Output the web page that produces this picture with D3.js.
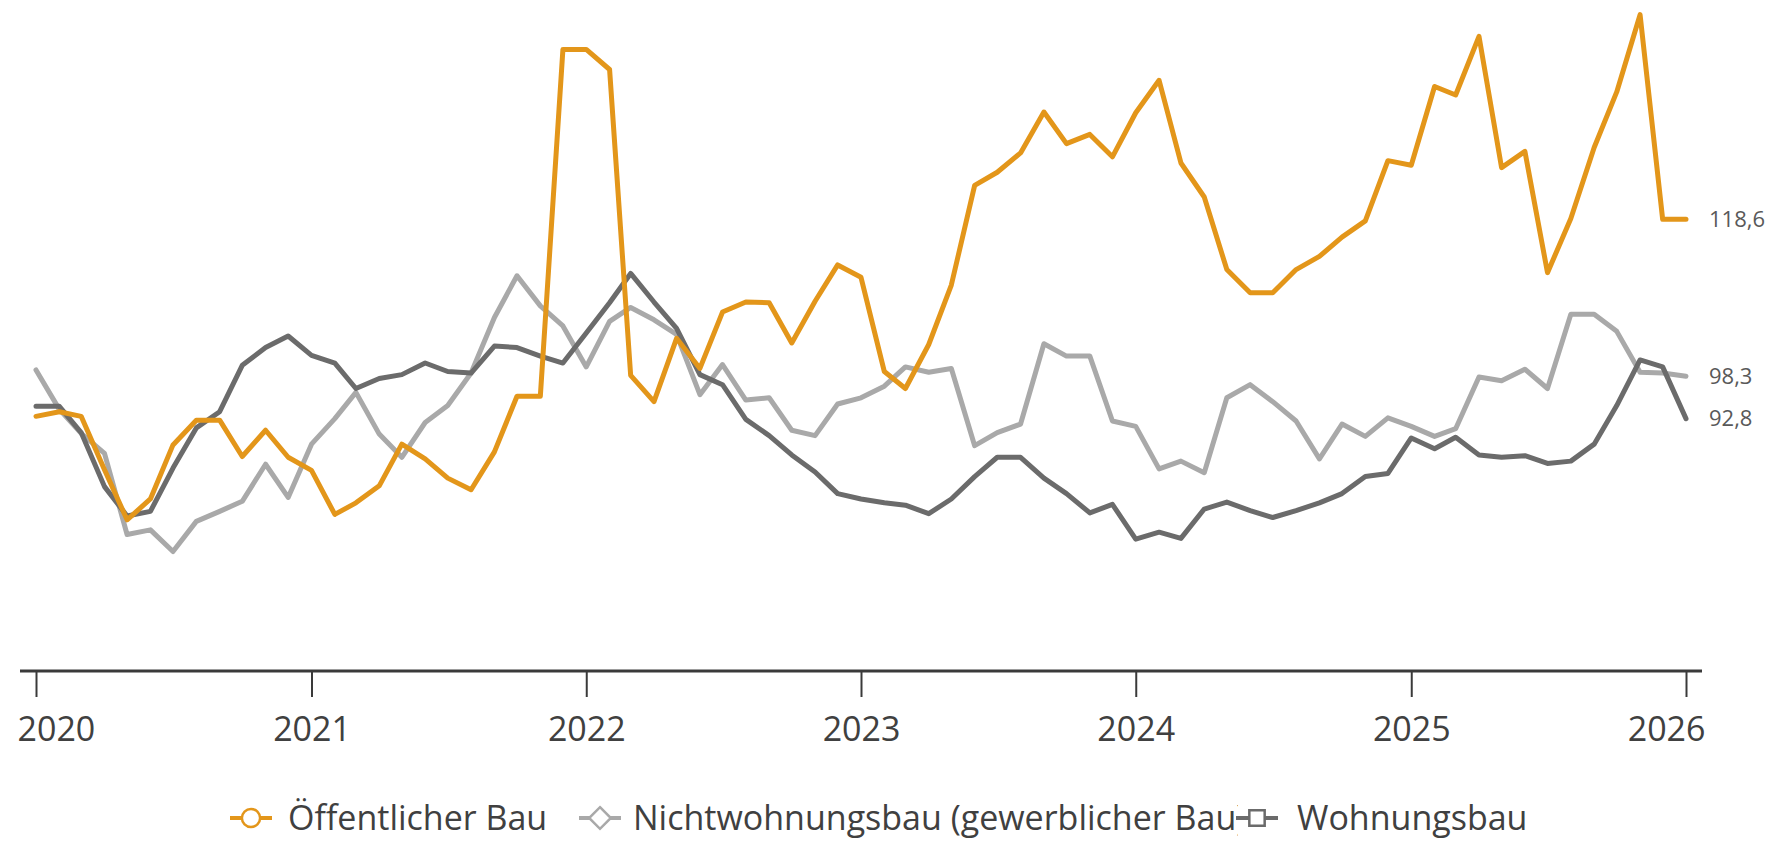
<!DOCTYPE html>
<html>
<head>
<meta charset="utf-8">
<script src="https://cdn.jsdelivr.net/npm/d3@7"></script>
<style>
    body { margin: 0; background: #fff; }
    text { font-family: "Open Sans", "Noto Sans", sans-serif; }
</style>
</head>
<body>
<div id="root"></div>
<script>
// monthly index values, Jan 2020 .. Jan 2026
const firstMonth = new Date(2020, 0, 1);
const lastMonth = new Date(2026, 0, 1);

const oeffentlich = [
    93.1, 93.7, 93.1, 86.2, 79.7, 82.4, 89.4, 92.6, 92.6, 87.9, 91.3, 87.8,
    86.1, 80.4, 81.9, 84.1, 89.5, 87.6, 85.1, 83.6, 88.5, 95.7, 95.7, 140.6,
    140.6, 138.0, 98.4, 95.0, 103.2, 99.3, 106.6, 107.9, 107.8, 102.6, 108.0, 112.7,
    111.1, 98.9, 96.7, 102.4, 110.1, 123.0, 124.7, 127.2, 132.5, 128.4, 129.6, 126.7,
    132.4, 136.6, 125.9, 121.5, 112.1, 109.1, 109.1, 112.1, 113.8, 116.3, 118.4, 126.2,
    125.6, 135.8, 134.7, 142.3, 125.3, 127.4, 111.7, 118.7, 127.9, 135.1, 145.1, 118.6,
    118.6
];

const nichtwohnungsbau = [
    99.1, 94.0, 90.9, 88.3, 77.8, 78.4, 75.6, 79.5, 80.8, 82.1, 86.9, 82.6,
    89.5, 92.8, 96.2, 90.8, 87.8, 92.3, 94.5, 98.7, 105.9, 111.3, 107.4, 104.8,
    99.5, 105.4, 107.2, 105.6, 103.7, 95.9, 99.8, 95.2, 95.5, 91.3, 90.6, 94.7,
    95.5, 97.0, 99.5, 98.8, 99.3, 89.3, 91.0, 92.1, 102.5, 100.9, 100.9, 92.5,
    91.8, 86.3, 87.3, 85.8, 95.5, 97.2, 95.0, 92.5, 87.6, 92.1, 90.5, 92.9,
    91.8, 90.5, 91.5, 98.2, 97.7, 99.2, 96.7, 106.3, 106.3, 104.1, 98.8, 98.7,
    98.3
];

const wohnungsbau = [
    94.4, 94.4, 91.0, 84.0, 80.2, 80.8, 86.4, 91.6, 93.7, 99.7, 102.0, 103.5,
    101.0, 100.0, 96.7, 98.0, 98.5, 100.0, 98.9, 98.7, 102.2, 102.0, 100.9, 100.0,
    103.9, 107.8, 111.6, 107.9, 104.5, 98.5, 97.2, 92.7, 90.6, 88.1, 85.9, 83.1,
    82.4, 81.9, 81.6, 80.5, 82.4, 85.3, 87.8, 87.8, 85.1, 83.1, 80.6, 81.7,
    77.2, 78.1, 77.3, 81.1, 82.0, 80.9, 80.0, 80.9, 81.9, 83.1, 85.3, 85.7,
    90.3, 88.9, 90.4, 88.1, 87.8, 88.0, 87.0, 87.3, 89.5, 94.5, 100.4, 99.5,
    92.8
];

const seriesNames = ["Öffentlicher Bau", "Nichtwohnungsbau (gewerblicher Bau)", "Wohnungsbau"];
const yearTicks = [2020, 2021, 2022, 2023, 2024, 2025, 2026];

const colors = ["#e3961a", "#a9a9a9", "#6b6b6b"];
const markers = ["circle", "diamond", "square"];

const outerWidth = 1772;
const outerHeight = 841;

const axisY = 671;
const months = d3.timeMonth.range(firstMonth, d3.timeMonth.offset(lastMonth, 1));

const series = [oeffentlich, nichtwohnungsbau, wohnungsbau].map((values, i) => ({
    name: seriesNames[i],
    color: colors[i],
    marker: markers[i],
    values: values.map((v, j) => ({ date: months[j], value: v }))
}));

let scaleX = d3.scaleTime().domain([firstMonth, lastMonth]).range([36, 1686]);
let scaleY = d3.scaleLinear().domain([60, 147]).range([672, 0]);

let svg = d3.select("#root")
            .append("svg")
            .attr("width", outerWidth)
            .attr("height", outerHeight);

let line = d3.line()
             .x(d => scaleX(d.date))
             .y(d => scaleY(d.value));

// draw order: light gray, dark gray, orange on top where they cross
let drawOrder = [series[1], series[2], series[0]];

svg.selectAll(".series")
   .data(drawOrder)
   .enter().append("path")
   .attr("class", "series")
   .attr("fill", "none")
   .attr("stroke", d => d.color)
   .attr("stroke-width", 5)
   .attr("stroke-linejoin", "round")
   .attr("stroke-linecap", "round")
   .attr("d", d => line(d.values));

// value labels at the end of each line
svg.selectAll(".end-label")
   .data(series)
   .enter().append("text")
   .attr("class", "end-label")
   .attr("x", 1709)
   .attr("y", d => scaleY(d.values[d.values.length - 1].value))
   .attr("dy", "0.35em")
   .style("font-size", "22px")
   .style("fill", "#595959")
   .text(d => d3.format(".1f")(d.values[d.values.length - 1].value).replace(".", ","));

// x axis
let xAxis = d3.axisBottom(scaleX)
              .tickValues(yearTicks.map(y => new Date(y, 0, 1)))
              .tickFormat(d3.timeFormat("%Y"))
              .tickSize(26)
              .tickPadding(20);

let axisG = svg.append("g")
               .attr("class", "x axis")
               .attr("transform", `translate(0, ${axisY})`)
               .call(xAxis);

axisG.select(".domain").remove();
axisG.append("line")
     .attr("x1", scaleX(firstMonth) - 16)
     .attr("x2", scaleX(lastMonth) + 16)
     .attr("stroke", "#3a3a3a")
     .attr("stroke-width", 3);

axisG.selectAll(".tick line")
     .attr("stroke", "#3a3a3a")
     .attr("stroke-width", 2);

axisG.selectAll(".tick text")
     .style("font-size", "34px")
     .style("font-family", "'Open Sans', sans-serif")
     .attr("fill", "#404040");

// keep the outer year labels inside the axis line
let labelMin = scaleX(firstMonth) - 19;
let labelMax = scaleX(lastMonth) + 19;
axisG.selectAll(".tick").each(function(d) {
    let t = d3.select(this).select("text");
    let w = t.node().getComputedTextLength();
    let cx = scaleX(d);
    if (cx - w / 2 < labelMin) t.attr("x", labelMin - cx + w / 2);
    if (cx + w / 2 > labelMax) t.attr("x", labelMax - cx - w / 2);
});

// legend
const legendMarkerX = [251, 600, 1257];
const legendTextX = [288, 633, 1297];
const legendY = 818;

let legend = svg.append("g").attr("class", "legend");

svg.append("clipPath")
   .attr("id", "legend-clip")
   .append("rect")
   .attr("x", 0).attr("y", 780)
   .attr("width", 1238).attr("height", 61);

let items = legend.selectAll(".item")
                  .data(series)
                  .enter().append("g")
                  .attr("class", "item");

items.append("text")
     .attr("x", (d, i) => legendTextX[i])
     .attr("y", legendY + 12)
     .attr("clip-path", (d, i) => i === 1 ? "url(#legend-clip)" : null)
     .style("font-size", "34px")
     .style("fill", "#404040")
     .text(d => d.name);

items.append("line")
     .attr("x1", (d, i) => legendMarkerX[i] - 21)
     .attr("x2", (d, i) => legendMarkerX[i] + 21)
     .attr("y1", legendY)
     .attr("y2", legendY)
     .attr("stroke", d => d.color)
     .attr("stroke-width", 4);

let symbolTypes = { circle: d3.symbolCircle, diamond: d3.symbolDiamond2, square: d3.symbolSquare2 };

items.append("path")
     .attr("transform", (d, i) => `translate(${legendMarkerX[i]}, ${legendY})`)
     .attr("d", d => d3.symbol().type(symbolTypes[d.marker]).size(d.marker === "circle" ? 260 : 300)())
     .attr("fill", "#fff")
     .attr("stroke", d => d.color)
     .attr("stroke-width", 2.5);
</script>
</body>
</html>
